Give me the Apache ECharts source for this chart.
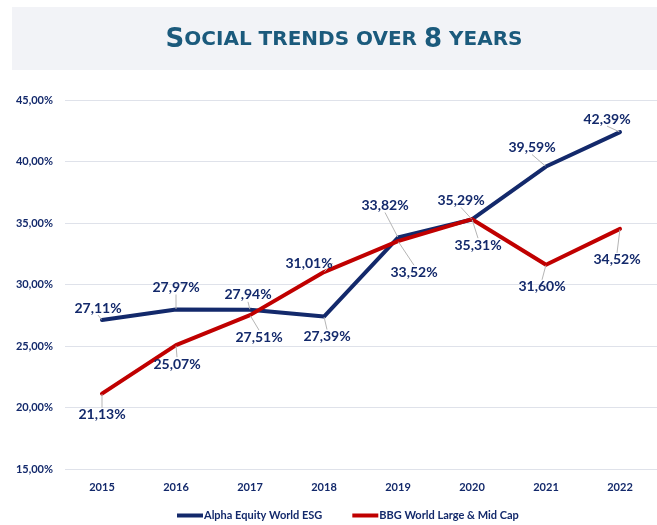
<!DOCTYPE html>
<html>
<head>
<meta charset="utf-8">
<script src="https://cdn.jsdelivr.net/npm/echarts@6/dist/echarts.min.js"></script>
<style>
html,body{margin:0;padding:0;background:#fff;}
#chart{width:657px;height:525px;}
</style>
</head>
<body>
<div id="chart"></div>
<script>
// Years and yearly values (in %)
const years = ['2015', '2016', '2017', '2018', '2019', '2020', '2021', '2022'];
const alphaEsg = [27.11, 27.97, 27.94, 27.39, 33.82, 35.29, 39.59, 42.39];
const bbgWorld = [21.13, 25.07, 27.51, 31.01, 33.52, 35.31, 31.60, 34.52];
const seriesNames = ['Alpha Equity World ESG', 'BBG World Large & Mid Cap'];

// Label nudges (px) relative to each point, per series
const alphaNudge = [[-4, -12], [0, -22], [-2, -15], [3, 20], [-13, -32], [-11, -19], [-14, -19], [-13, -13]];
const bbgNudge = [[0, 21], [1, 19], [9, 22], [-15, -9], [16, 31], [6, 26], [-4, 22], [-3, 31]];

const NAVY = '#13296b';
const RED = '#c00000';
const TITLE = '#1b5a7c';
const FONT = 'Lato, "Noto Sans", sans-serif';
const TITLE_FONT = '"DejaVu Sans", sans-serif';

const fmt = v => v.toFixed(2).replace('.', ',') + '%';

const chart = echarts.init(document.getElementById('chart'), null, {renderer: 'canvas'});

function lineSeries(name, values, color, nudges) {
  return {
    name: name,
    type: 'line',
    data: values,
    symbol: 'circle',
    symbolSize: 1,
    showSymbol: true,
    itemStyle: {color: color},
    lineStyle: {color: color, width: 4, cap: 'round', join: 'round'},
    label: {
      show: true,
      position: 'inside',
      formatter: p => fmt(p.value),
      color: NAVY,
      fontFamily: FONT,
      fontWeight: 'bold',
      fontSize: 14
    },
    labelLine: {show: true, lineStyle: {color: '#b5b5b5', width: 1}},
    labelLayout: p => ({dx: nudges[p.dataIndex][0], dy: nudges[p.dataIndex][1]}),
    emphasis: {disabled: true},
    animation: false
  };
}

chart.setOption({
  backgroundColor: '#ffffff',
  animation: false,
  graphic: [
    {
      type: 'rect',
      shape: {x: 12, y: 7, width: 660, height: 63},
      style: {fill: '#f2f3f7'},
      z: 0
    },
    {
      type: 'text',
      x: 344,
      y: 40,
      style: {
        text: '{a|S}{b|OCIAL TRENDS OVER }{a|8}{b| YEARS}',
        align: 'center',
        verticalAlign: 'middle',
        rich: {
          a: {fontSize: 26, fontWeight: 'bold', fontFamily: TITLE_FONT, fill: TITLE, color: TITLE},
          b: {fontSize: 20, fontWeight: 'bold', fontFamily: TITLE_FONT, fill: TITLE, color: TITLE}
        }
      },
      z: 1
    }
  ],
  grid: {left: 65, right: -14, top: 100, bottom: 56},
  legend: {
    top: 505,
    left: 172,
    itemWidth: 26,
    itemHeight: 4,
    itemGap: 30,
    icon: 'rect',
    textStyle: {color: NAVY, fontFamily: FONT, fontWeight: 'bold', fontSize: 11, padding: [0, 0, 0, -4]},
    data: seriesNames
  },
  xAxis: {
    type: 'category',
    data: years,
    boundaryGap: true,
    axisLine: {show: false},
    axisTick: {show: false},
    axisLabel: {color: NAVY, fontFamily: FONT, fontWeight: 'bold', fontSize: 11, margin: 13}
  },
  yAxis: {
    type: 'value',
    min: 15,
    max: 45,
    interval: 5,
    axisLine: {show: false},
    axisTick: {show: false},
    axisLabel: {color: NAVY, fontFamily: FONT, fontWeight: 'bold', fontSize: 11, margin: 12, formatter: v => fmt(v)},
    splitLine: {lineStyle: {color: '#dfe2ea', width: 1}}
  },
  series: [
    lineSeries(seriesNames[0], alphaEsg, NAVY, alphaNudge),
    lineSeries(seriesNames[1], bbgWorld, RED, bbgNudge)
  ]
});
</script>
</body>
</html>
